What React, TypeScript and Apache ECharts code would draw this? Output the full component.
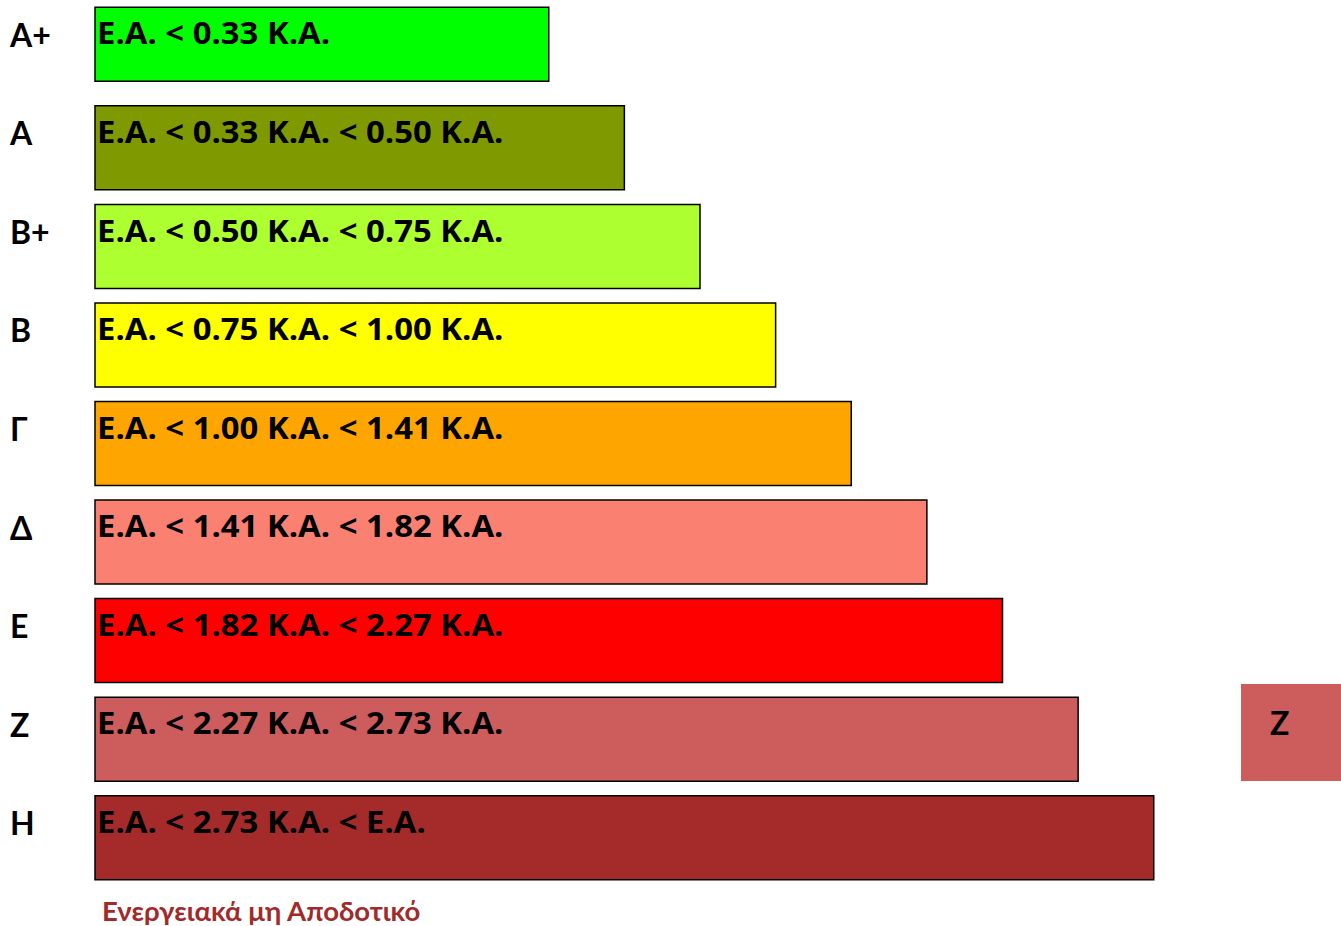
import React, { useEffect, useRef } from 'react';
import * as echarts from 'echarts';

const classes = ['Α+', 'Α', 'Β+', 'Β', 'Γ', 'Δ', 'Ε', 'Ζ', 'Η'];
const ranges = [
  'Ε.Α. < 0.33 Κ.Α.',
  'Ε.Α. < 0.33 Κ.Α. < 0.50 Κ.Α.',
  'Ε.Α. < 0.50 Κ.Α. < 0.75 Κ.Α.',
  'Ε.Α. < 0.75 Κ.Α. < 1.00 Κ.Α.',
  'Ε.Α. < 1.00 Κ.Α. < 1.41 Κ.Α.',
  'Ε.Α. < 1.41 Κ.Α. < 1.82 Κ.Α.',
  'Ε.Α. < 1.82 Κ.Α. < 2.27 Κ.Α.',
  'Ε.Α. < 2.27 Κ.Α. < 2.73 Κ.Α.',
  'Ε.Α. < 2.73 Κ.Α. < Ε.Α.',
];
const barLengths = [6, 7, 8, 9, 10, 11, 12, 13, 14];
const classColors = ['#00FF00', '#7F9A00', '#ADFF2F', '#FFFF00', '#FFA500', '#FA8072', '#FF0000', '#CD5C5C', '#A52A2A'];
const currentClass = 'Ζ';
const footerText = 'Ενεργειακά μη Αποδοτικό';

const FONT = "Lato, 'Open Sans', sans-serif";
const BAR_FONT = "'Open Sans', Lato, sans-serif";

export default function App() {
  const ref = useRef<HTMLDivElement>(null);
  useEffect(() => {
    if (!ref.current) return;
    const chart = echarts.init(ref.current, undefined, { renderer: 'svg' });
    const curIdx = classes.indexOf(currentClass);
    chart.setOption({
      animation: false,
      grid: { left: 95, top: 0, height: 887, right: 36 },
      xAxis: { type: 'value', min: 0, max: 16, show: false },
      yAxis: {
        type: 'category',
        inverse: true,
        data: classes,
        axisLine: { show: false },
        axisTick: { show: false },
        splitLine: { show: false },
        axisLabel: {
          align: 'left',
          margin: 85,
          fontFamily: FONT,
          fontWeight: 'bold',
          fontSize: 32,
          lineHeight: 30,
          color: '#000',
          verticalAlign: 'bottom',
        },
      },
      series: [
        {
          type: 'custom',
          encode: { x: 0, y: 1 },
          data: barLengths.map((v, i) => [v, i]),
          renderItem: (params: any, api: any) => {
            const i = params.dataIndex;
            const cat = api.value(1);
            const end = api.coord([api.value(0), cat]);
            const start = api.coord([0, cat]);
            const h = i === 0 ? 74 : 84;
            const top = end[1] - 42;
            return {
              type: 'group',
              children: [
                {
                  type: 'rect',
                  shape: { x: start[0], y: top, width: end[0] - start[0], height: h },
                  style: { fill: classColors[i], stroke: '#000', lineWidth: 1.5 },
                },
                {
                  type: 'text',
                  x: start[0] + 2,
                  y: top + 9.5,
                  scaleX: 1.06,
                  style: {
                    x: 0,
                    y: 0,
                    text: ranges[i],
                    fill: '#000',
                    fontFamily: BAR_FONT,
                    fontWeight: 'bold',
                    fontSize: 31,
                    verticalAlign: 'top',
                    align: 'left',
                  },
                },
              ],
            };
          },
        },
      ],
      graphic: [
        {
          type: 'rect',
          left: 1241,
          top: 684,
          shape: { width: 100, height: 97 },
          style: { fill: classColors[curIdx] },
        },
        {
          type: 'text',
          left: 1270,
          top: 706,
          style: {
            text: currentClass,
            fill: '#000',
            fontFamily: FONT,
            fontWeight: 'bold',
            fontSize: 32,
          },
        },
        {
          type: 'text',
          left: 102,
          top: 896,
          style: {
            text: footerText,
            fill: '#A12B2B',
            fontFamily: FONT,
            fontWeight: 'bold',
            fontSize: 27.5,
          },
        },
      ],
    });
    return () => chart.dispose();
  }, []);
  return (
    <div
      ref={ref}
      style={{ position: 'absolute', left: 0, top: 0, width: 1341, height: 926 }}
    />
  );
}
